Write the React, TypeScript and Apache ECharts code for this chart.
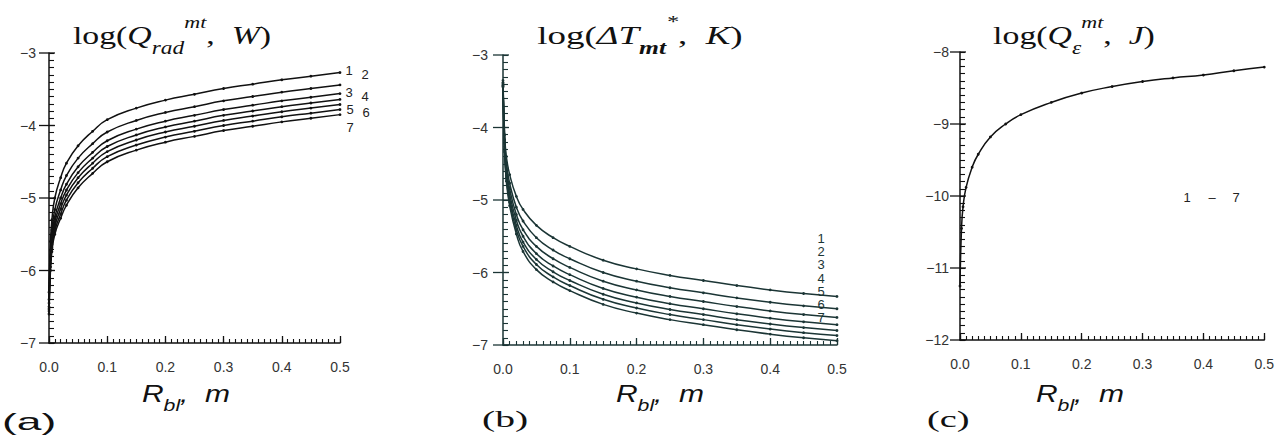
import React, { useEffect, useRef } from 'react';
import * as echarts from 'echarts';

// R_bl values (m) shared by all curves
const rBl = [0, 0.0025, 0.005, 0.01, 0.02, 0.03, 0.05, 0.075, 0.1, 0.15, 0.2, 0.25, 0.3, 0.35, 0.4, 0.45, 0.5];

// (a) log(Q_rad^mt, W)
const qRad1 = [-6.3, -5.6, -5.3, -5.0, -4.72, -4.52, -4.28, -4.08, -3.92, -3.76, -3.65, -3.57, -3.49, -3.43, -3.37, -3.32, -3.27];
const qRad2 = [-6.4, -5.72, -5.44, -5.16, -4.89, -4.69, -4.45, -4.25, -4.09, -3.93, -3.82, -3.74, -3.66, -3.6, -3.54, -3.49, -3.44];
const qRad3 = [-6.45, -5.8, -5.53, -5.26, -5.0, -4.81, -4.57, -4.37, -4.21, -4.05, -3.94, -3.86, -3.78, -3.72, -3.66, -3.61, -3.56];
const qRad4 = [-6.5, -5.85, -5.59, -5.33, -5.08, -4.89, -4.65, -4.45, -4.29, -4.13, -4.02, -3.94, -3.86, -3.8, -3.74, -3.69, -3.64];
const qRad5 = [-6.53, -5.9, -5.64, -5.39, -5.15, -4.96, -4.72, -4.52, -4.36, -4.2, -4.09, -4.01, -3.93, -3.87, -3.81, -3.76, -3.71];
const qRad6 = [-6.56, -5.95, -5.69, -5.45, -5.22, -5.03, -4.79, -4.59, -4.43, -4.27, -4.16, -4.08, -4.0, -3.94, -3.88, -3.83, -3.78];
const qRad7 = [-6.6, -6.0, -5.74, -5.5, -5.28, -5.1, -4.86, -4.66, -4.5, -4.34, -4.23, -4.15, -4.07, -4.01, -3.95, -3.9, -3.85];

// (b) log(ΔT_mt*, K)
const dT1 = [-3.35, -4.1, -4.4, -4.65, -4.95, -5.13, -5.35, -5.52, -5.64, -5.83, -5.95, -6.04, -6.11, -6.18, -6.24, -6.29, -6.33];
const dT2 = [-3.38, -4.17, -4.49, -4.77, -5.1, -5.29, -5.52, -5.69, -5.81, -6.0, -6.12, -6.21, -6.28, -6.35, -6.41, -6.46, -6.5];
const dT3 = [-3.39, -4.22, -4.56, -4.85, -5.2, -5.41, -5.64, -5.81, -5.93, -6.12, -6.24, -6.33, -6.4, -6.47, -6.53, -6.58, -6.62];
const dT4 = [-3.41, -4.26, -4.62, -4.92, -5.28, -5.5, -5.74, -5.91, -6.03, -6.22, -6.34, -6.43, -6.5, -6.57, -6.63, -6.68, -6.72];
const dT5 = [-3.42, -4.29, -4.66, -4.98, -5.35, -5.58, -5.82, -5.99, -6.11, -6.3, -6.42, -6.51, -6.58, -6.65, -6.71, -6.76, -6.8];
const dT6 = [-3.43, -4.32, -4.7, -5.03, -5.41, -5.64, -5.89, -6.06, -6.18, -6.37, -6.49, -6.58, -6.65, -6.72, -6.78, -6.83, -6.87];
const dT7 = [-3.44, -4.34, -4.74, -5.08, -5.47, -5.71, -5.96, -6.13, -6.25, -6.44, -6.56, -6.65, -6.72, -6.79, -6.85, -6.9, -6.94];

// (c) log(Q_eps^mt, J) – curves 1–7 coincide
const qEps = [-11.25, -10.45, -10.15, -9.88, -9.6, -9.42, -9.18, -9.0, -8.87, -8.7, -8.57, -8.48, -8.41, -8.36, -8.32, -8.26, -8.21];

const curveNames = ['1', '2', '3', '4', '5', '6', '7'];
const qRadSeries = [qRad1, qRad2, qRad3, qRad4, qRad5, qRad6, qRad7];
const dTSeries = [dT1, dT2, dT3, dT4, dT5, dT6, dT7];

const xMin = 0;
const xMax = 0.5;
const xStep = 0.1;
const xMinorStep = 0.01;
const yMinorStep = 0.1;
const yRanges = [
  [-7, -3],
  [-7, -3],
  [-12, -8],
];
// labelled (major) y ticks of each panel
const yMajorTicks = [
  [-7, -6, -5, -4, -3],
  [-7, -6, -5, -4, -3],
  [-12, -11, -10, -9, -8],
];

const INK = '#111111';
const TEAL = '#1b3535';

export default function App() {
  const ref = useRef<HTMLDivElement>(null);

  useEffect(() => {
    if (!ref.current) return;
    const chart = echarts.init(ref.current, null, { renderer: 'svg' });

    const grids = [
      { left: 49, top: 53, width: 291, height: 290 },
      { left: 503, top: 55, width: 334, height: 290 },
      { left: 960, top: 52, width: 305, height: 288 },
    ];
    const colors = [INK, TEAL, INK];
    const yMargins = [13, 15, 11];

    const xAxes: any[] = grids.map((_, i) => ({
      type: 'value',
      gridIndex: i,
      position: 'bottom',
      min: xMin,
      max: xMax,
      interval: xStep,
      axisLine: { show: true, lineStyle: { color: colors[i], width: 1.5 } },
      axisTick: { show: true, inside: true, length: 7, lineStyle: { color: colors[i], width: 1.3 } },
      splitLine: { show: false },
      axisLabel: {
        margin: 17,
        fontFamily: 'Liberation Sans',
        fontSize: 14,
        color: '#333',
        formatter: (v: number) => v.toFixed(1),
      },
    }));
    // helper x axes placed on the bottom edge, carrying the fine ticks pointing up
    grids.forEach((g, i) => {
      xAxes.push({
        type: 'value',
        gridIndex: i,
        position: 'top',
        offset: -g.height,
        min: xMin,
        max: xMax,
        interval: xMinorStep,
        axisLine: { show: false },
        axisLabel: { show: false },
        splitLine: { show: false },
        axisTick: { show: true, inside: false, length: 4, lineStyle: { color: colors[i], width: 1.1 } },
      });
    });

    // y axes: fine ticks every 0.1 pointing inward, labels only at integers
    const yAxes: any[] = grids.map((_, i) => ({
      type: 'value',
      gridIndex: i,
      position: 'left',
      min: yRanges[i][0],
      max: yRanges[i][1],
      interval: yMinorStep,
      axisLine: { show: true, lineStyle: { color: colors[i], width: 1.5 } },
      axisTick: { show: true, inside: true, length: 5, lineStyle: { color: colors[i], width: 1.1 } },
      splitLine: { show: false },
      axisLabel: {
        interval: 0,
        margin: yMargins[i],
        fontFamily: 'Liberation Sans',
        fontSize: 14,
        color: '#333',
        formatter: (v: number) =>
          Math.abs(v - Math.round(v)) < 1e-6 ? String(Math.round(v)).replace('-', '\u2212') : '',
      },
    }));

    const mkLine = (data: number[], gi: number, name: string, color: string) => ({
      type: 'line',
      name,
      xAxisIndex: gi,
      yAxisIndex: gi,
      data: rBl.map((r, k) => [r, data[k]]),
      smooth: 0.5,
      symbol: 'circle',
      symbolSize: 2.8,
      itemStyle: { color },
      lineStyle: { color, width: 1.5 },
      emphasis: { disabled: true },
    });

    const series: any[] = [];
    qRadSeries.forEach((d, k) => series.push(mkLine(d, 0, 'a' + curveNames[k], INK)));
    dTSeries.forEach((d, k) => series.push(mkLine(d, 1, 'b' + curveNames[k], TEAL)));
    series.push(mkLine(qEps, 2, 'c1-7', INK));

    // outward major y ticks (drawn through the axis scale)
    yMajorTicks.forEach((ticks, gi) => {
      series.push({
        type: 'custom',
        name: 'yticks' + gi,
        xAxisIndex: gi,
        yAxisIndex: gi,
        silent: true,
        clip: false,
        data: ticks.map((t) => [xMin, t]),
        encode: { x: 0, y: 1 },
        renderItem: (_p: any, api: any) => {
          const pt = api.coord([api.value(0), api.value(1)]);
          return {
            type: 'line',
            shape: { x1: pt[0] - 10, y1: pt[1], x2: pt[0] + 6, y2: pt[1] },
            style: { stroke: colors[gi], lineWidth: 1.3 },
          };
        },
      });
    });

    const serif = 'Liberation Serif';
    const sans = 'Liberation Sans';
    const titleRich = {
      n: { fontFamily: serif, fontSize: 26, lineHeight: 44, verticalAlign: 'middle', fill: '#111' },
      q: { fontFamily: serif, fontStyle: 'italic', fontSize: 26, lineHeight: 44, verticalAlign: 'middle', fill: '#111' },
      sub: { fontFamily: serif, fontStyle: 'italic', fontSize: 18, lineHeight: 28, verticalAlign: 'bottom', fill: '#111' },
      subb: { fontFamily: serif, fontStyle: 'italic', fontWeight: 'bold', fontSize: 18, lineHeight: 28, verticalAlign: 'bottom', fill: '#111' },
      sup: { fontFamily: serif, fontStyle: 'italic', fontSize: 17, lineHeight: 26, verticalAlign: 'top', fill: '#111' },
    };
    const axisRich = {
      r: { fontFamily: sans, fontStyle: 'italic', fontSize: 24, lineHeight: 40, verticalAlign: 'middle', fill: '#111' },
      sub: { fontFamily: sans, fontStyle: 'italic', fontSize: 17, lineHeight: 24, verticalAlign: 'bottom', fill: '#111' },
    };

    const title = (x: number, text: string, sx: number) => ({
      type: 'text',
      x,
      y: 35,
      scaleX: sx,
      style: { text, rich: titleRich, x: 0, y: 0, align: 'center', verticalAlign: 'middle' },
    });
    const axisName = (x: number) => ({
      type: 'text',
      x,
      y: 394,
      scaleX: 1.25,
      style: { text: '{r|R}{sub|bl}{r|,  m}', rich: axisRich, x: 0, y: 0, align: 'center', verticalAlign: 'middle' },
    });
    const small = (x: number, y: number, text: string, color = '#222', lh?: number) => ({
      type: 'text',
      x,
      y,
      style: {
        text, x: 0, y: 0, align: 'center', verticalAlign: 'middle',
        fontFamily: sans, fontSize: 13, lineHeight: lh, fill: color,
      },
    });
    const panel = (x: number, y: number, text: string, family: string, sx: number) => ({
      type: 'text',
      x,
      y,
      scaleX: sx,
      style: { text, x: 0, y: 0, align: 'left', verticalAlign: 'middle', fontFamily: family, fontSize: 24, fill: '#111' },
    });

    const labelsA = [
      [349, 70], [365, 74], [349, 92], [365, 96], [350, 109], [366, 112], [350, 127],
    ];

    const graphic: any[] = [
      title(172, '{n|log(}{q|Q}{sub|rad}{sup|mt}{n|,  }{q|W}{n|)}', 1.3),
      title(640, '{n|log(}{q|ΔT}{subb|mt}{sup|*}{n|,  }{q|K}{n|)}', 1.42),
      title(1074, '{n|log(}{q|Q}{sub|ε}{sup|mt}{n|,  }{q|J}{n|)}', 1.3),
      axisName(186),
      axisName(660),
      axisName(1080),
      panel(2, 422, '(a)', sans, 1.85),
      panel(482, 419, '(b)', serif, 1.65),
      panel(927, 419, '(c)', serif, 1.6),
      ...labelsA.map((p, k) => small(p[0], p[1], curveNames[k])),
      small(821, 278, curveNames.join('\n'), TEAL, 13.3),
      small(1187, 197, '1'),
      small(1212, 197, '\u2013'),
      small(1236, 197, '7'),
    ];

    chart.setOption({
      animation: false,
      backgroundColor: '#ffffff',
      grid: grids,
      xAxis: xAxes,
      yAxis: yAxes,
      series,
      graphic,
    });

    return () => chart.dispose();
  }, []);

  return (
    <div
      ref={ref}
      style={{ position: 'fixed', left: 0, top: 0, width: 1277, height: 437, background: '#fff' }}
    />
  );
}
